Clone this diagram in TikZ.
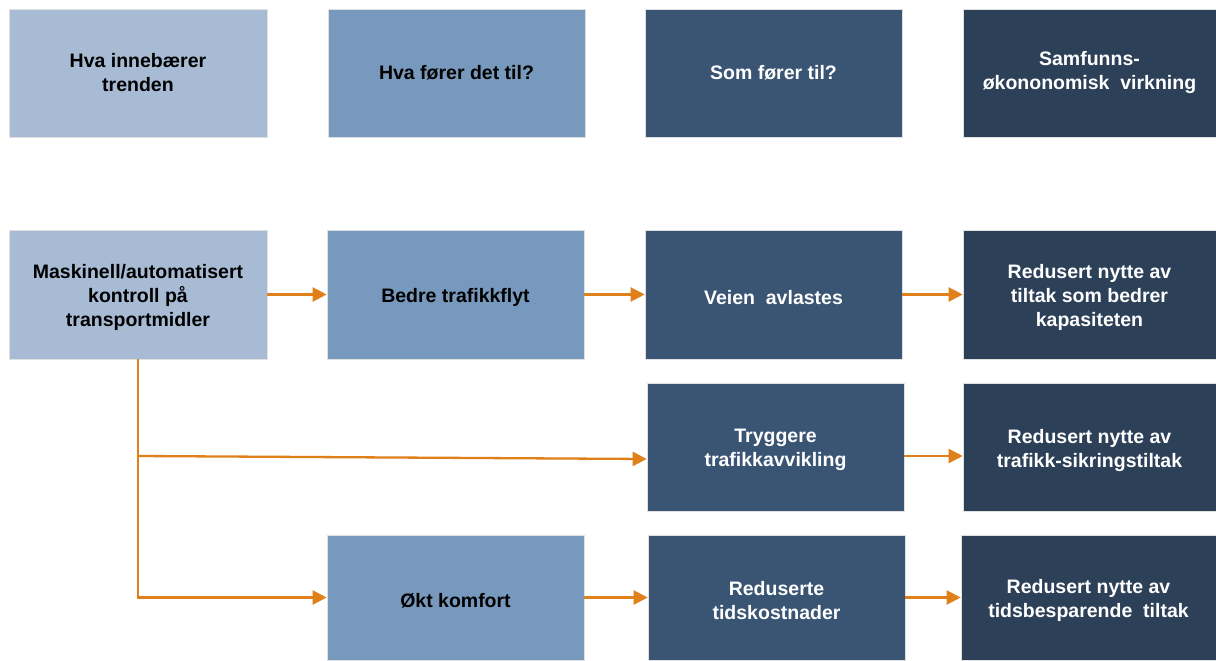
\documentclass[tikz,border=0pt]{standalone}
\usepackage{fontspec}
\setmainfont{Liberation Sans}
\usetikzlibrary{arrows.meta}
\definecolor{cLight}{HTML}{A7BCD4}
\definecolor{cMed}{HTML}{7799BD}
\definecolor{cDark}{HTML}{3A5573}
\definecolor{cDarkest}{HTML}{2C4058}
\definecolor{cOrange}{HTML}{E0801A}
\begin{document}
\begin{tikzpicture}[x=1pt,y=-1pt,
  box/.style={rectangle, inner sep=0pt, align=center, draw=black!12, line width=0.6pt,
    font=\fontsize{19.5}{24}\selectfont\bfseries},
  lbox/.style={box, fill=cLight, text=black},
  mbox/.style={box, fill=cMed, text=black},
  dbox/.style={box, fill=cDark, text=white},
  ddbox/.style={box, fill=cDarkest, text=white},
  btx/.style={align=center, inner sep=0pt, yshift=-3pt, text=black,
    font=\fontsize{19.5}{24}\selectfont\bfseries},
  wtx/.style={btx, text=white},
  conn/.style={draw=cOrange, line width=2.3pt, -{Triangle[length=14pt,width=14pt]}},
  plain/.style={draw=cOrange, line width=2.3pt}
]
\useasboundingbox (0,0) rectangle (1216,661);
% header row
\node[lbox, minimum width=258, minimum height=128] (h1) at (138,73) {Hva innebærer\\trenden};
\node[mbox, minimum width=257, minimum height=128] (h2) at (456.5,73) {Hva fører det til?};
\node[dbox, minimum width=257, minimum height=128] (h3) at (773.5,73) {Som fører til?};
\node[ddbox, minimum width=253, minimum height=128] (h4) at (1089.5,73) {Samfunns-\\økononomisk\ \ virkning};
% row 2
\node[lbox, minimum width=258, minimum height=129, label={[btx]center:{Maskinell/automatisert\\kontroll på\\transportmidler}}] (a) at (138,294.5) {};
\node[mbox, minimum width=257, minimum height=129, label={[btx]center:{Bedre trafikkflyt}}] (b) at (455.5,294.5) {};
\node[dbox, minimum width=257, minimum height=129, label={[wtx]center:{Veien\ \ avlastes}}] (v) at (773.5,294.5) {};
\node[ddbox, minimum width=253, minimum height=129, label={[wtx]center:{Redusert nytte av\\tiltak som bedrer\\kapasiteten}}] (r1) at (1089.5,294.5) {};
% row 3
\node[dbox, minimum width=257, minimum height=128, label={[wtx]center:{Tryggere\\trafikkavvikling}}] (t) at (775.5,447) {};
\node[ddbox, minimum width=253, minimum height=128, label={[wtx]center:{Redusert nytte av\\trafikk-sikringstiltak}}] (r2) at (1089.5,447) {};
% row 4
\node[mbox, minimum width=257, minimum height=125, label={[btx]center:{Økt komfort}}] (o) at (455.5,597.5) {};
\node[dbox, minimum width=257, minimum height=125, label={[wtx]center:{Reduserte\\tidskostnader}}] (rt) at (776.5,597.5) {};
\node[ddbox, minimum width=255, minimum height=125, label={[wtx]center:{Redusert nytte av\\tidsbesparende\ \ tiltak}}] (r3) at (1088.5,597.5) {};
% connectors
\draw[conn] (a) -- (b);
\draw[conn] (b) -- (v);
\draw[conn] (v) -- (r1);
\coordinate (j) at ([yshift=-9]a.south |- t.west);
\coordinate (je) at ([yshift=-12]t.west);
\draw[plain] (a.south) -- (a.south |- o.west) -- ++(1,0);
\draw[conn] (a.south |- o.west) -- (o.west);
\draw[conn] (j) -- (je);
\draw[conn] ([yshift=-9]t.east) -- ([yshift=-9]r2.west);
\draw[conn] (o) -- (rt);
\draw[conn] (rt) -- (r3);
\end{tikzpicture}
\end{document}
